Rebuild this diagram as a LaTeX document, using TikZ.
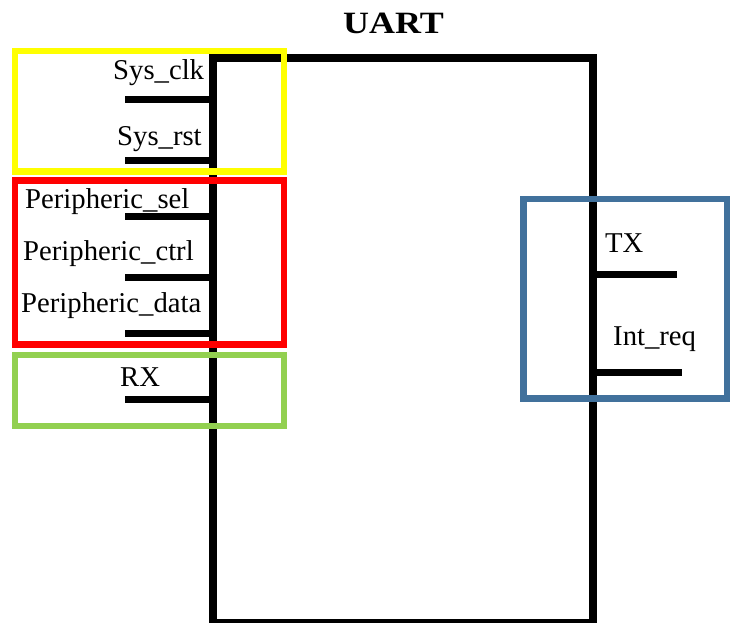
\documentclass[tikz,border=0pt]{standalone}
\usepackage{fontspec}
\setmainfont{Liberation Serif}
\definecolor{grpyellow}{RGB}{255,255,0}
\definecolor{grpred}{RGB}{255,0,0}
\definecolor{grpgreen}{RGB}{146,208,80}
\definecolor{grpblue}{RGB}{65,113,156}
\begin{document}
\begin{tikzpicture}[x=1pt,y=-1pt,
  block/.style={draw=black, line width=8pt, rectangle, inner sep=0pt},
  pinline/.style={draw=black, line width=7pt},
  grp/.style={rectangle, line width=6.5pt, inner sep=0pt},
  sig/.style={inner sep=0pt, anchor=base west, font=\fontsize{28.7}{30}\selectfont},
  ttl/.style={inner sep=0pt, anchor=base, font=\bfseries\fontsize{31}{33}\selectfont}]
\useasboundingbox (0,0) rectangle (731,622);
\clip (0,0) rectangle (731,622);

% module body (its lower edge runs off the page)
\node[block, minimum width=380.5pt, minimum height=565.5pt] (uart) at (402.75,340.25) {};
\node[ttl] (title) at (393.5,33) {\scalebox{1.16}[1]{UART}};

% input pins
\coordinate (clk)  at (125,99.5);
\coordinate (rst)  at (125,160);
\coordinate (psel) at (125,216);
\coordinate (pctl) at (125,277.5);
\coordinate (pdat) at (125,333.5);
\coordinate (rx)   at (125,399.5);
\foreach \p in {clk,rst,psel,pctl,pdat,rx}
  \draw[pinline] (\p) -- (\p -| uart.west);

% output pins
\coordinate (tx)  at (677,274);
\coordinate (irq) at (682,372);
\foreach \p in {tx,irq}
  \draw[pinline] (\p -| uart.east) -- (\p);

% signal names
\node[sig] (lclk)  at (113,79.3)  {Sys\_clk};
\node[sig] (lrst)  at (117,145)   {Sys\_rst};
\node[sig] (lpsel) at (25,208.3)  {Peripheric\_sel};
\node[sig] (lpctl) at (23,260)    {Peripheric\_ctrl};
\node[sig] (lpdat) at (21,312.3)  {Peripheric\_data};
\node[sig] (lrx)   at (120,386)   {RX};
\node[sig] (ltx)   at (605,252)   {TX};
\node[sig] (lirq)  at (613,345)   {Int\_req};

% signal groups
\node[grp, draw=grpyellow, minimum width=269pt, minimum height=120.5pt] (gsys)  at (149.5,111.25) {};
\node[grp, draw=grpred,    minimum width=269pt, minimum height=164pt]   (gper)  at (149.5,262.5) {};
\node[grp, draw=grpgreen,  minimum width=269pt, minimum height=71pt]    (grx)   at (149.5,390.5) {};
\node[grp, draw=grpblue,   minimum width=203.5pt, minimum height=199.5pt] (gout) at (625.25,298.75) {};
\end{tikzpicture}
\end{document}
